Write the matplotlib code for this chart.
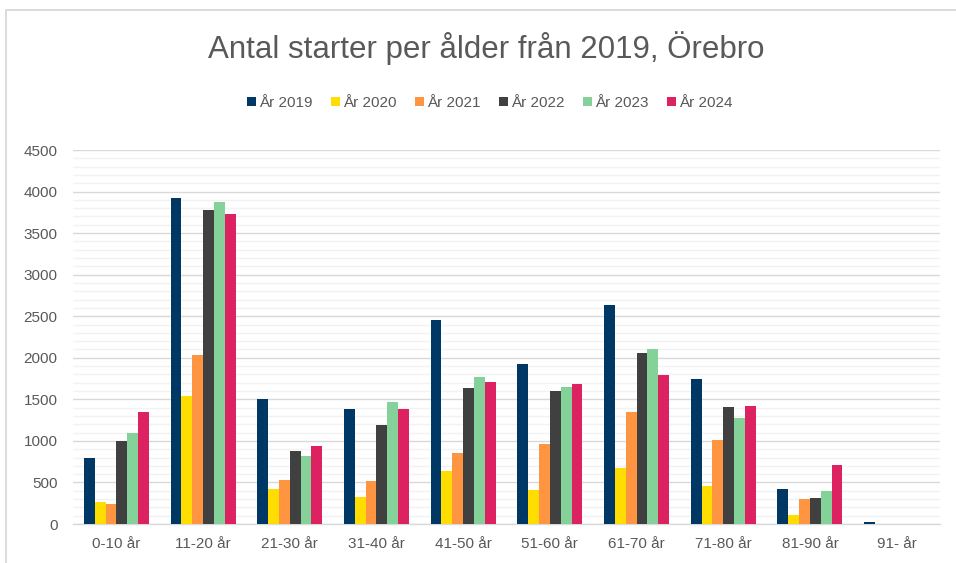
import numpy as np
import matplotlib.pyplot as plt
from matplotlib.patches import Rectangle

plt.rcParams['font.family'] = ['Liberation Sans', 'DejaVu Sans']

age_groups = ['0-10 år', '11-20 år', '21-30 år', '31-40 år', '41-50 år',
              '51-60 år', '61-70 år', '71-80 år', '81-90 år', '91- år']
years = ['År 2019', 'År 2020', 'År 2021', 'År 2022', 'År 2023', 'År 2024']

starts_2019 = [800, 3920, 1510, 1380, 2450, 1930, 2640, 1750, 420, 20]
starts_2020 = [260, 1540, 425, 325, 640, 410, 675, 460, 110, 0]
starts_2021 = [240, 2030, 525, 520, 860, 960, 1350, 1010, 300, 0]
starts_2022 = [1000, 3780, 880, 1190, 1640, 1600, 2060, 1405, 315, 0]
starts_2023 = [1090, 3870, 815, 1465, 1770, 1645, 2100, 1270, 400, 2]
starts_2024 = [1350, 3730, 940, 1380, 1710, 1690, 1790, 1420, 705, 0]

series = [starts_2019, starts_2020, starts_2021, starts_2022, starts_2023, starts_2024]
colors = ['#003865', '#FFDD00', '#FF9540', '#404040', '#84D19A', '#DD2262']

text_color = '#595959'

fig = plt.figure(figsize=(9.56, 5.63), dpi=100)
W, H = 956, 563

# outer chart frame
fig.patches.append(Rectangle((6 / W, -0.1), 1.2, (H - 10) / H + 0.1,
                             transform=fig.transFigure, fill=False,
                             edgecolor='#D9D9D9', linewidth=1.3))

ax = fig.add_axes([73 / W, 1 - 524 / H, (940 - 73) / W, (524 - 150) / H])

x = np.arange(len(age_groups))
width = 0.125
for i, (vals, col, name) in enumerate(zip(series, colors, years)):
    ax.bar(x + (i - 2.5) * width, vals, width, color=col, label=name, zorder=3)

ax.set_xlim(-0.5, len(age_groups) - 0.5)
ax.set_ylim(0, 4500)
ax.set_yticks(np.arange(0, 4501, 500))
ax.set_yticks(np.arange(0, 4501, 100), minor=True)
ax.grid(axis='y', which='major', color='#D9D9D9', linewidth=1.0, zorder=0)
ax.grid(axis='y', which='minor', color='#F2F2F2', linewidth=1.0, zorder=0)
ax.set_xticks(x)
ax.set_xticklabels(age_groups)

for side in ['top', 'right', 'left']:
    ax.spines[side].set_visible(False)
ax.spines['bottom'].set_color('#D9D9D9')
ax.spines['bottom'].set_linewidth(1.0)

ax.tick_params(axis='y', which='both', length=0, pad=11, labelsize=11, labelcolor=text_color)
ax.tick_params(axis='x', length=0, pad=9, labelsize=11, labelcolor=text_color)

fig.text(486 / W, 1 - 58 / H, 'Antal starter per ålder från 2019, Örebro',
         ha='center', va='baseline', fontsize=22.5, color=text_color)

fig.legend(loc='center', bbox_to_anchor=(490 / W, 1 - 103 / H), ncol=6,
           frameon=False, fontsize=11, labelcolor=text_color,
           handlelength=0.6, handleheight=0.6, handletextpad=0.2,
           columnspacing=1.2)

plt.savefig('out.png', dpi=100)
